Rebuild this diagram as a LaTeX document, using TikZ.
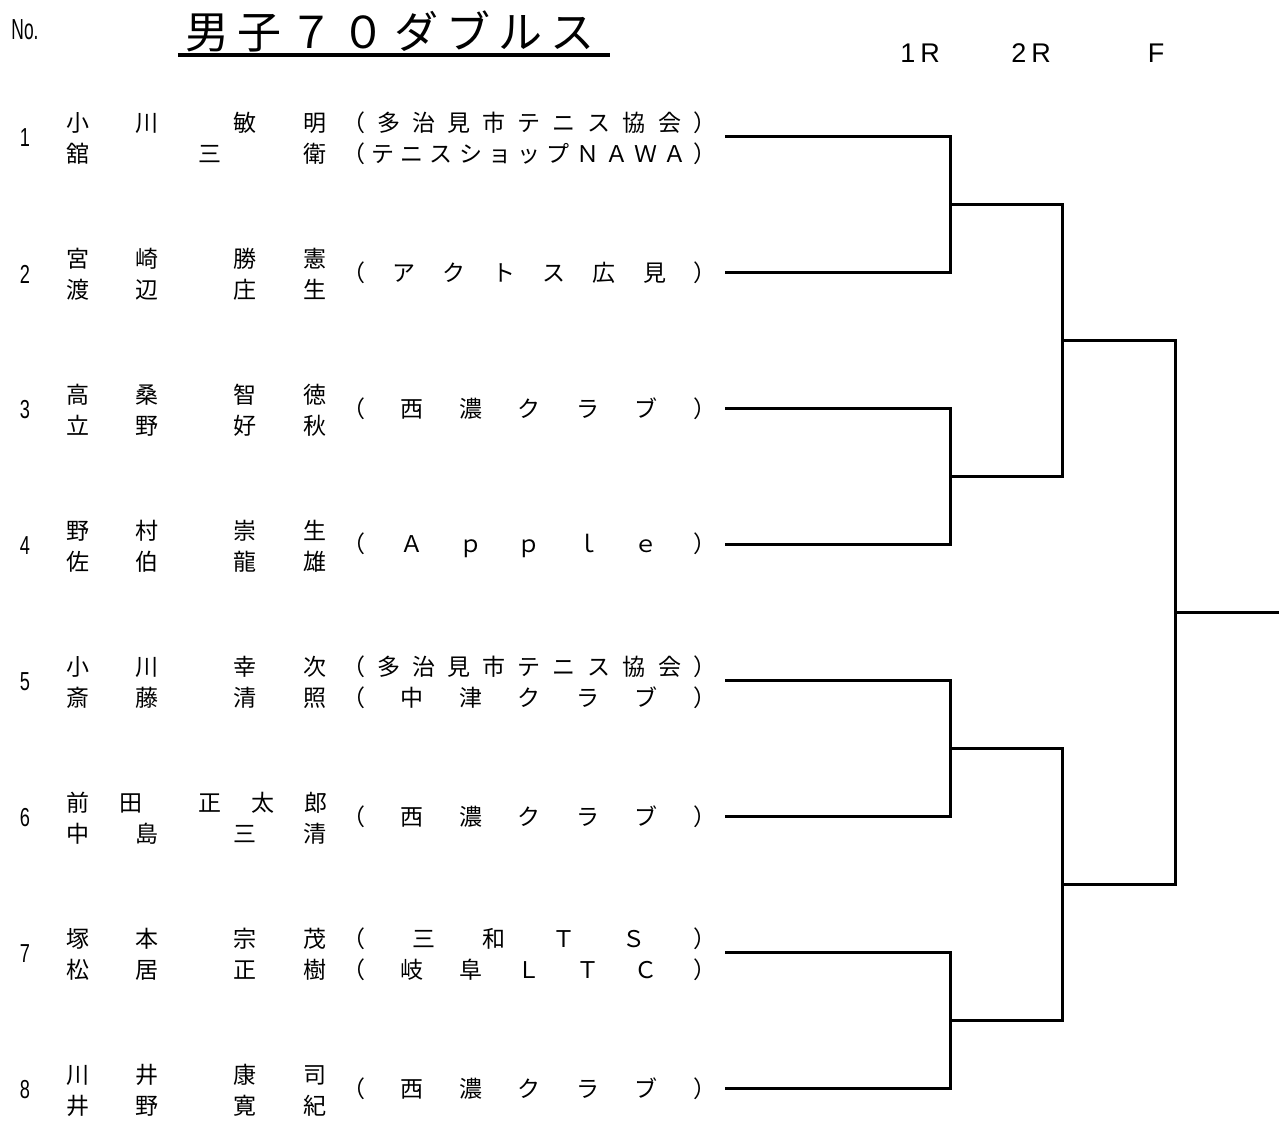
\documentclass[tikz,border=0pt]{standalone}
\usepackage{graphicx}
\usepackage{fontspec}
\setmainfont{Noto Sans CJK JP}
\newfontfamily\latinfont{Liberation Sans}
\usetikzlibrary{positioning}

% spread the characters of #2 over a box of width #1
\def\spreadfirst#1{#1\spreadloop}
\def\spreadloop#1{\ifx#1\relax\else\hfill#1\expandafter\spreadloop\fi}
\newcommand{\spreadbox}[2]{\makebox[#1][s]{\spreadfirst#2\relax}}
\newcommand{\clubbox}[1]{\spreadbox{374pt}{#1}}
\newcommand{\playername}[4]{#1\hspace{46pt}#2\hspace{75pt}#3\hspace{47pt}#4}

\tikzset{
    entry/.style={anchor=west, inner sep=0pt, font=\fontsize{23}{23}\selectfont},
    seed/.style={inner sep=0pt, font=\latinfont\fontsize{26}{26}\selectfont},
    roundlabel/.style={inner sep=0pt, font=\latinfont\fontsize{27}{27}\selectfont},
    bracket/.style={line width=3pt},
}

\begin{document}
\begin{tikzpicture}[x=1pt, y=-1pt, node distance=111pt]
        \useasboundingbox (0,0) rectangle (1279,1120);

        \node (no) [inner sep=0pt, font=\latinfont\fontsize{29}{29}\selectfont] at (25,30) {\scalebox{0.6}[1]{No.}};
        \node (title) [inner sep=0pt, font=\fontsize{44}{44}\selectfont] at (390,31) {\spreadbox{410pt}{男子７０ダブルス}};
        \draw [line width=4pt] ([xshift=-7pt, yshift=-3pt]title.south west) -- ([xshift=15pt, yshift=-3pt]title.south east);

        \node (round1) [roundlabel] at (920,53) {1\hspace{5pt}R};
        \node (round2) [roundlabel, right of=round1] {2\hspace{5pt}R};
        \node (roundf) [roundlabel, right of=round2, xshift=14pt] {F};

        % Players
        \node (seed1) [seed] at (25,138) {\scalebox{0.7}[1]{1}};
        \node (name1a) [entry] at (66.5,123) {\playername{小}{川}{敏}{明}};
        \node (name1b) [entry] at (66.5,154) {舘\hspace{109pt}三\hspace{82pt}衛};
        \node (club1a) [entry] at (342,123) {\clubbox{（多治見市テニス協会）}};
        \node (club1b) [entry] at (342,154) {\clubbox{（テニスショップＮＡＷＡ）}};

        \node (seed2) [seed] at (25,274) {\scalebox{0.7}[1]{2}};
        \node (name2a) [entry] at (66.5,259) {\playername{宮}{崎}{勝}{憲}};
        \node (name2b) [entry] at (66.5,290) {\playername{渡}{辺}{庄}{生}};
        \node (club2) [entry] at (342,273) {\clubbox{（アクトス広見）}};

        \node (seed3) [seed] at (25,410) {\scalebox{0.7}[1]{3}};
        \node (name3a) [entry] at (66.5,395) {\playername{高}{桑}{智}{徳}};
        \node (name3b) [entry] at (66.5,426) {\playername{立}{野}{好}{秋}};
        \node (club3) [entry] at (342,409) {\clubbox{（西濃クラブ）}};

        \node (seed4) [seed] at (25,546) {\scalebox{0.7}[1]{4}};
        \node (name4a) [entry] at (66.5,531) {\playername{野}{村}{崇}{生}};
        \node (name4b) [entry] at (66.5,562) {\playername{佐}{伯}{龍}{雄}};
        \node (club4) [entry] at (342,545) {\clubbox{（Ａｐｐｌｅ）}};

        \node (seed5) [seed] at (25,682) {\scalebox{0.7}[1]{5}};
        \node (name5a) [entry] at (66.5,667) {\playername{小}{川}{幸}{次}};
        \node (name5b) [entry] at (66.5,698) {\playername{斎}{藤}{清}{照}};
        \node (club5a) [entry] at (342,667) {\clubbox{（多治見市テニス協会）}};
        \node (club5b) [entry] at (342,698) {\clubbox{（中津クラブ）}};

        \node (seed6) [seed] at (25,818) {\scalebox{0.7}[1]{6}};
        \node (name6a) [entry] at (66.5,803) {前\hspace{30pt}田\hspace{56pt}正\hspace{30pt}太\hspace{30pt}郎};
        \node (name6b) [entry] at (66.5,834) {\playername{中}{島}{三}{清}};
        \node (club6) [entry] at (342,817) {\clubbox{（西濃クラブ）}};

        \node (seed7) [seed] at (25,954) {\scalebox{0.7}[1]{7}};
        \node (name7a) [entry] at (66.5,939) {\playername{塚}{本}{宗}{茂}};
        \node (name7b) [entry] at (66.5,970) {\playername{松}{居}{正}{樹}};
        \node (club7a) [entry] at (342,939) {\clubbox{（三和ＴＳ）}};
        \node (club7b) [entry] at (342,970) {\clubbox{（岐阜ＬＴＣ）}};

        \node (seed8) [seed] at (25,1090) {\scalebox{0.7}[1]{8}};
        \node (name8a) [entry] at (66.5,1075) {\playername{川}{井}{康}{司}};
        \node (name8b) [entry] at (66.5,1106) {\playername{井}{野}{寛}{紀}};
        \node (club8) [entry] at (342,1089) {\clubbox{（西濃クラブ）}};

        % Bracket points
        \coordinate (line1) at (725,136.7);
        \coordinate (line2) at (725,272.7);
        \coordinate (line3) at (725,408.7);
        \coordinate (line4) at (725,544.7);
        \coordinate (line5) at (725,680.7);
        \coordinate (line6) at (725,816.7);
        \coordinate (line7) at (725,952.7);
        \coordinate (line8) at (725,1088.7);
        \coordinate (match12) at (950,204.7);
        \coordinate (match34) at (950,476.7);
        \coordinate (match56) at (950,748.7);
        \coordinate (match78) at (950,1020.7);
        \coordinate (semi14) at (1062,340.7);
        \coordinate (semi58) at (1062,884.7);
        \coordinate (winner) at (1175,612.7);
        \coordinate (champion) at (1279,612.7);

        % Lines
        \draw [bracket] (line1) -| (match12) |- (line2);
        \draw [bracket] (line3) -| (match34) |- (line4);
        \draw [bracket] (line5) -| (match56) |- (line6);
        \draw [bracket] (line7) -| (match78) |- (line8);
        \draw [bracket] (match12) -| (semi14) |- (match34);
        \draw [bracket] (match56) -| (semi58) |- (match78);
        \draw [bracket] (semi14) -| (winner) |- (semi58);
        \draw [bracket] (winner) -- (champion);

    \end{tikzpicture}
\end{document}
